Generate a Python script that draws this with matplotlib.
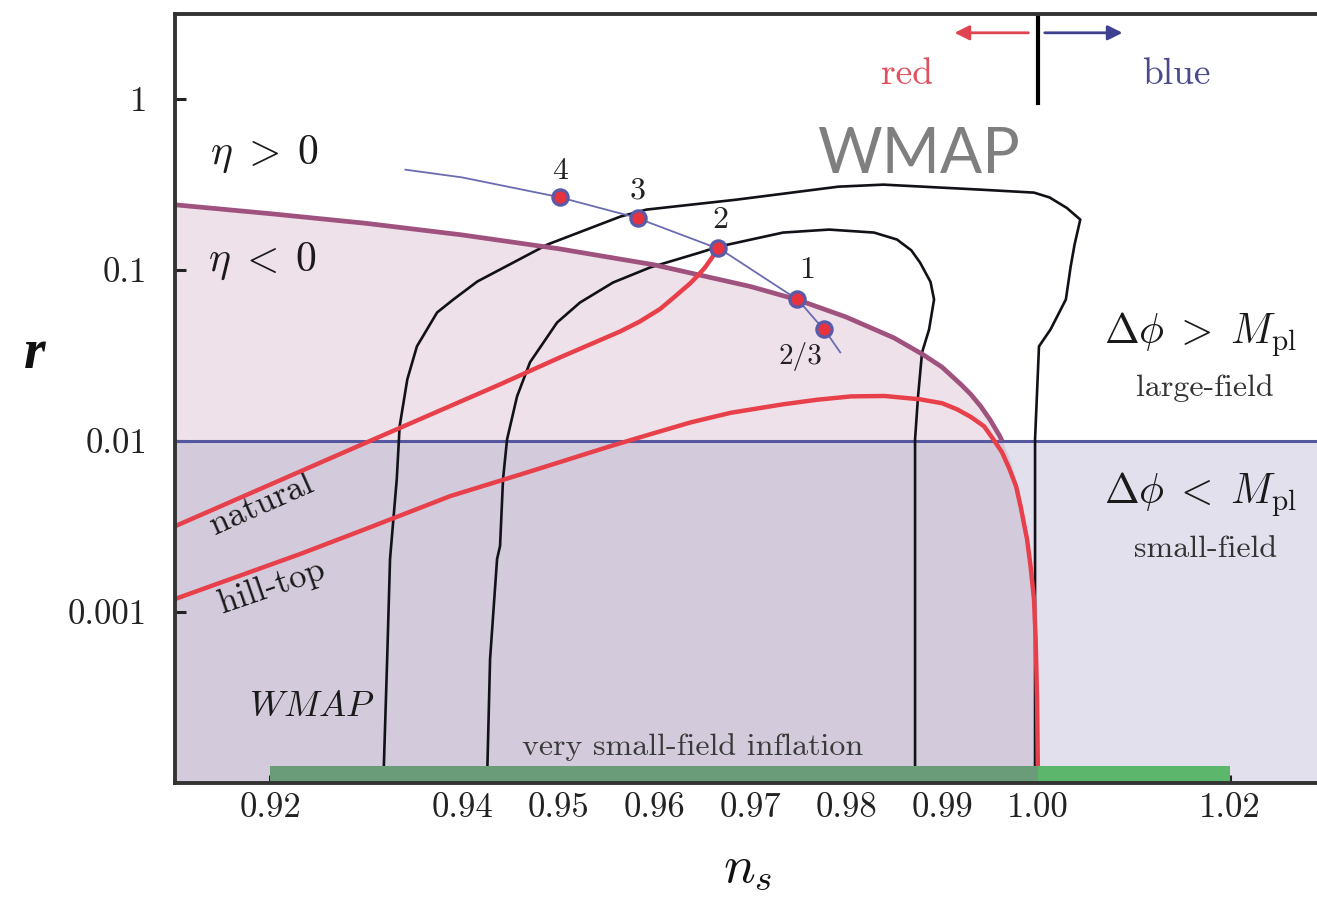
import numpy as np
import matplotlib
matplotlib.use('Agg')
import matplotlib.pyplot as plt
from matplotlib.patches import Rectangle
import matplotlib.transforms as mtransforms

plt.rcParams['mathtext.fontset'] = 'cm'
plt.rcParams['font.family'] = ['cmr10', 'DejaVu Serif']
plt.rcParams['axes.unicode_minus'] = False
plt.rcParams['axes.formatter.use_mathtext'] = True

# ---------------- data ----------------
xticks = [0.92, 0.94, 0.95, 0.96, 0.97, 0.98, 0.99, 1.00, 1.02]
xticklabels = ['0.92', '0.94', '0.95', '0.96', '0.97', '0.98', '0.99', '1.00', '1.02']
yticks = [1, 0.1, 0.01, 0.001]
yticklabels = ['1', '0.1', '0.01', '0.001']

# eta = 0 boundary (purple curve)
eta0_ns = [0.9101, 0.92, 0.93, 0.94, 0.95, 0.96, 0.97, 0.975, 0.98, 0.985, 0.988, 0.99,
           0.992, 0.993, 0.994, 0.995, 0.996, 0.99625, 0.997, 0.998, 0.999, 0.9995,
           0.9998, 0.9999, 0.99996]
eta0_r = [0.240, 0.213, 0.187, 0.160, 0.133, 0.107, 0.080, 0.0667, 0.053, 0.040, 0.032, 0.027,
          0.0213, 0.0187, 0.0160, 0.0133, 0.0107, 0.0100, 0.0080, 0.0053, 0.0027, 0.00133,
          0.00053, 0.00027, 0.0001]

# WMAP 95% contour (outer)
wmap95_ns = [0.9318, 0.9322, 0.9325, 0.9332, 0.9335, 0.9343, 0.9353, 0.9374, 0.9391,
             0.9416, 0.9489, 0.9565, 0.9592, 0.9686, 0.9792, 0.9839, 0.9940, 0.99958,
             1.0012, 1.0030, 1.0044, 1.0038, 1.0034, 1.0029, 1.0013, 1.0001, 0.99969, 0.99969]
wmap95_r = [0.0001, 0.00053, 0.00204, 0.00597, 0.01217, 0.0229, 0.0357, 0.0563, 0.0671,
            0.0855, 0.1406, 0.2048, 0.2249, 0.2572, 0.3063, 0.3148, 0.2943, 0.2827,
            0.2650, 0.2300, 0.1967, 0.1400, 0.1045, 0.0671, 0.0448, 0.0357, 0.0102, 0.0001]

# WMAP 68% contour (inner)
wmap68_ns = [0.94260, 0.94292, 0.94365, 0.94396, 0.94427, 0.94469, 0.94573, 0.94708,
             0.94990, 0.95229, 0.95573, 0.95958, 0.96479, 0.96677, 0.97344, 0.97823,
             0.98292, 0.98531, 0.98680, 0.98771, 0.98880, 0.98917, 0.98865, 0.98792,
             0.98750, 0.98719, 0.98719]
wmap68_r = [0.0001, 0.00053, 0.00204, 0.00243, 0.00597, 0.0102, 0.0182, 0.0288,
            0.0492, 0.0644, 0.0843, 0.1032, 0.1262, 0.1368, 0.1651, 0.1719,
            0.1651, 0.1503, 0.1300, 0.1103, 0.0850, 0.0671, 0.0448, 0.0329,
            0.0182, 0.0102, 0.0001]

# natural inflation (red)
natural_ns = [0.91010, 0.93042, 0.94396, 0.9500, 0.95646, 0.9585, 0.96063, 0.9622,
              0.96375, 0.9646, 0.96531, 0.9660, 0.96667]
natural_r = [0.00317, 0.0100, 0.0214, 0.0304, 0.0436, 0.0498, 0.0590, 0.0700,
             0.0832, 0.0930, 0.1032, 0.117, 0.1334]

# hill-top inflation (red)
hilltop_ns = [0.91010, 0.92313, 0.9300, 0.93875, 0.9470, 0.95542, 0.9600, 0.96385, 0.9680,
              0.97344, 0.9770, 0.98052, 0.9840, 0.98771, 0.9900, 0.99156, 0.9930, 0.99438,
              0.9953, 0.99625, 0.9970, 0.99771, 0.9982, 0.99885, 0.9992, 0.99958, 0.99975,
              0.99990, 1.00000]
hilltop_r = [0.00119, 0.00218, 0.00306, 0.00475, 0.0066, 0.0093, 0.0111, 0.01284, 0.0146,
             0.01636, 0.0174, 0.0182, 0.0183, 0.0175, 0.0166, 0.0153, 0.0138, 0.01217,
             0.0103, 0.00858, 0.0069, 0.00543, 0.0041, 0.00267, 0.0019, 0.00119, 0.0007,
             0.00031, 0.0001]

# monomial models (thin blue line) and marked powers
mono_ns = [0.9341, 0.940, 0.950, 0.958, 0.967, 0.975, 0.978, 0.9794]
mono_r = [0.385, 0.347, 0.267, 0.203, 0.131, 0.0667, 0.0427, 0.0329]
power_labels = ['4', '3', '2', '1', '2/3']
power_ns = [0.9502, 0.9583, 0.9667, 0.9749, 0.9777]
power_r = [0.268, 0.2019, 0.1334, 0.0671, 0.0448]

# ---------------- figure ----------------
W, H = 1317, 899
fig = plt.figure(figsize=(W / 100, H / 100), dpi=100)
ax = fig.add_axes([175 / W, 1 - 783 / H, (W - 175) / W, (783 - 14) / H])
ax.set_yscale('log')
ax.set_xlim(0.9101, 1.02906)
ax.set_ylim(1.0e-4, 3.13)

pink = '#efe1e9'
lav = '#e3e0ee'
dark = '#d3cadb'
red = '#e8404a'
purple = '#a0527f'
navy = '#55579f'

# background regions
ax.axhspan(1e-4, 0.01, color=lav, lw=0, zorder=0)
e_ns = np.array(eta0_ns)
e_r = np.array(eta0_r)
ax.fill_between(e_ns, 1e-4, np.minimum(e_r, 0.01), color=dark, lw=0, zorder=0.5)
ax.fill_between(e_ns, 0.01, e_r, where=e_r >= 0.01, interpolate=True,
                color=pink, lw=0, zorder=0.5)

# r = 0.01 line
ax.axhline(0.01, color=navy, lw=2.2, zorder=2)

# WMAP contours
ax.plot(wmap95_ns, wmap95_r, color='#111118', lw=1.9, zorder=3, solid_joinstyle='round')
ax.plot(wmap68_ns, wmap68_r, color='#111118', lw=1.9, zorder=3, solid_joinstyle='round')

# eta = 0 curve
mask = e_r >= 0.01
ax.plot(e_ns[mask], e_r[mask], color=purple, lw=3.4, zorder=4, solid_capstyle='butt',
        solid_joinstyle='round')

# red model curves
ax.plot(natural_ns, natural_r, color=red, lw=3.2, zorder=5, solid_joinstyle='round')
ax.plot(hilltop_ns, hilltop_r, color=red, lw=3.2, zorder=5, solid_joinstyle='round')

# monomial line + markers
ax.plot(mono_ns, mono_r, color='#6b6bb2', lw=1.3, zorder=6)
ax.plot(power_ns, power_r, ls='none', marker='o', ms=11, mfc='#e8333f',
        mec='#5a5aa8', mew=2.3, zorder=7)
lab_off = {'4': (0, 25), '3': (0, 27), '2': (2, 28), '1': (10, 29), '2/3': (-24, -27)}
for lab, xv, yv in zip(power_labels, power_ns, power_r):
    dx, dy = lab_off[lab]
    fs = 21 if lab == '2/3' else 23
    ax.annotate(lab, (xv, yv), xytext=(dx, dy), textcoords='offset pixels',
                ha='center', va='center', fontsize=fs, color='#222222', zorder=8)

# green bar at the bottom
btr = mtransforms.blended_transform_factory(ax.transData, ax.transAxes)
ax.add_patch(Rectangle((0.92, 0), 0.08, 17 / 769, transform=btr,
                       color='#6b9c79', lw=0, zorder=6))
ax.add_patch(Rectangle((1.00, 0), 0.02, 17 / 769, transform=btr,
                       color='#5cb66c', lw=0, zorder=6))

# red / blue indicator at top
ax.plot([1.0, 1.0], [0.95, 3.2], color='black', lw=3.0, zorder=6, clip_on=True)
ax.annotate('', xy=(0.9913, 2.43), xytext=(0.9990, 2.43),
            arrowprops=dict(arrowstyle='-|>', color='#e04450', lw=2.0,
                            mutation_scale=22, shrinkA=0, shrinkB=0))
ax.annotate('', xy=(1.0088, 2.43), xytext=(1.0007, 2.43),
            arrowprops=dict(arrowstyle='-|>', color='#404090', lw=2.0,
                            mutation_scale=22, shrinkA=0, shrinkB=0))
ax.text(0.98635, 1.38, 'red', color='#e0505e', fontsize=27, ha='center', va='center')
ax.text(1.01444, 1.38, 'blue', color='#4a4a8c', fontsize=27, ha='center', va='center')

# annotations
ax.text(0.91948, 0.471, r'$\eta\;>\;0$', fontsize=30, ha='center', va='center', color='#1a1a1a')
ax.text(0.91917, 0.1116, r'$\eta\;<\;0$', fontsize=30, ha='center', va='center', color='#1a1a1a')
ax.text(0.98750, 0.471, 'WMAP', family='Lato', fontsize=45, color='#7f7f7f',
        ha='center', va='center', zorder=9)
ax.text(1.01688, 0.0418, r'$\Delta\phi\;>\;M_{\rm pl}$', fontsize=30, ha='center', va='center',
        color='#1a1a1a')
ax.text(1.01740, 0.0205, 'large-field', fontsize=23, ha='center', va='center', color='#333333')
ax.text(1.01688, 0.00487, r'$\Delta\phi\;<\;M_{\rm pl}$', fontsize=30, ha='center', va='center',
        color='#1a1a1a')
ax.text(1.01740, 0.00234, 'small-field', fontsize=23, ha='center', va='center', color='#333333')
ax.text(0.91917, 0.00426, 'natural', fontsize=25, rotation=24, ha='center', va='center',
        color='#1a1a1a', rotation_mode='anchor')
ax.text(0.92021, 0.00139, 'hill-top', fontsize=25, rotation=19, ha='center', va='center',
        color='#1a1a1a', rotation_mode='anchor')
ax.text(0.92438, 0.000278, r'$WMAP$', fontsize=26, ha='center', va='center', color='#1a1a1a')
ax.text(0.96406, 0.000163, 'very small-field inflation', fontsize=23, ha='center',
        va='center', color='#3a3a3a', zorder=8)

# axes styling
for side in ['left', 'top', 'bottom']:
    ax.spines[side].set_linewidth(2.8)
    ax.spines[side].set_color('#333333')
    ax.spines[side].set_zorder(10)
ax.spines['right'].set_visible(False)

ax.set_xticks(xticks)
ax.set_xticklabels(xticklabels)
ax.set_yticks(yticks)
ax.set_yticklabels(yticklabels)
ax.minorticks_off()
ax.tick_params(axis='x', direction='in', length=6, width=2.2, color='#222222',
               labelsize=25, pad=7, top=False, zorder=11)
ax.tick_params(axis='y', direction='in', length=8, width=2.2, color='#222222',
               labelsize=25, pad=20, right=False)
for t in ax.get_xticklabels() + ax.get_yticklabels():
    t.set_color('#222222')

fig.text(35 / W, 1 - 354 / H, 'r', family='Liberation Serif', weight='bold', style='italic',
         fontsize=40, ha='center', va='center', color='#111111')
fig.text(748 / W, 1 - 870 / H, r'$n_s$', fontsize=38, ha='center', va='center', color='#111111')

fig.savefig('out.png', dpi=100)
